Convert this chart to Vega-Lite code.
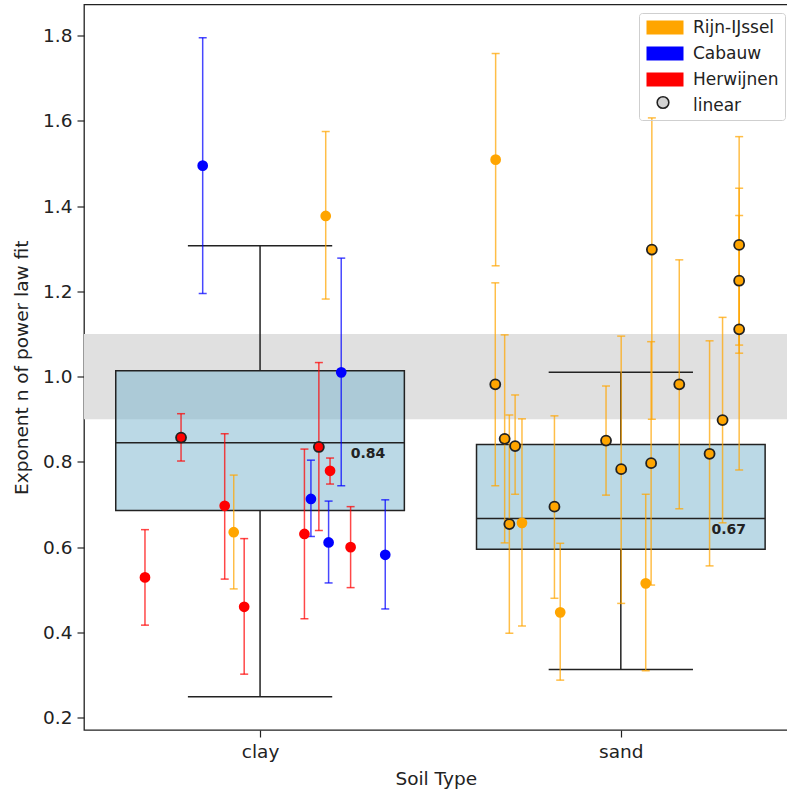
{
  "$schema": "https://vega.github.io/schema/vega-lite/v6.json",
  "width": 703.5,
  "height": 725.5,
  "autosize": {"type": "none"},
  "padding": {"left": 84, "top": 4.5, "right": 0, "bottom": 63},
  "background": "white",
  "config": {
    "font": "DejaVu Sans",
    "view": {"stroke": "#222", "strokeWidth": 1.3},
    "axis": {"grid": false, "domain": false, "labelColor": "#222", "titleColor": "#222", "tickColor": "#222", "labelFontSize": 18.5, "titleFontSize": 18.5, "titleFontWeight": "normal", "tickSize": 7, "tickWidth": 1.2}
  },
  "datasets": {
    "points": [
      {"soil": "clay", "x": -0.319, "y": 0.529, "lo": 0.417, "hi": 0.641, "site": "Herwijnen", "fit": "power"},
      {"soil": "clay", "x": -0.219, "y": 0.857, "lo": 0.802, "hi": 0.913, "site": "Herwijnen", "fit": "linear"},
      {"soil": "clay", "x": -0.098, "y": 0.697, "lo": 0.525, "hi": 0.866, "site": "Herwijnen", "fit": "power"},
      {"soil": "clay", "x": -0.073, "y": 0.635, "lo": 0.502, "hi": 0.769, "site": "Rijn-IJssel", "fit": "power"},
      {"soil": "clay", "x": -0.044, "y": 0.460, "lo": 0.302, "hi": 0.620, "site": "Herwijnen", "fit": "power"},
      {"soil": "clay", "x": -0.159, "y": 1.495, "lo": 1.195, "hi": 1.795, "site": "Cabauw", "fit": "power"},
      {"soil": "clay", "x": 0.182, "y": 1.377, "lo": 1.182, "hi": 1.575, "site": "Rijn-IJssel", "fit": "power"},
      {"soil": "clay", "x": 0.225, "y": 1.010, "lo": 0.744, "hi": 1.278, "site": "Cabauw", "fit": "power"},
      {"soil": "clay", "x": 0.163, "y": 0.835, "lo": 0.639, "hi": 1.033, "site": "Herwijnen", "fit": "linear"},
      {"soil": "clay", "x": 0.194, "y": 0.779, "lo": 0.748, "hi": 0.809, "site": "Herwijnen", "fit": "power"},
      {"soil": "clay", "x": 0.141, "y": 0.713, "lo": 0.625, "hi": 0.804, "site": "Cabauw", "fit": "power"},
      {"soil": "clay", "x": 0.123, "y": 0.631, "lo": 0.432, "hi": 0.830, "site": "Herwijnen", "fit": "power"},
      {"soil": "clay", "x": 0.190, "y": 0.611, "lo": 0.516, "hi": 0.708, "site": "Cabauw", "fit": "power"},
      {"soil": "clay", "x": 0.251, "y": 0.600, "lo": 0.505, "hi": 0.695, "site": "Herwijnen", "fit": "power"},
      {"soil": "clay", "x": 0.347, "y": 0.582, "lo": 0.455, "hi": 0.711, "site": "Cabauw", "fit": "power"},
      {"soil": "sand", "x": 0.653, "y": 1.509, "lo": 1.260, "hi": 1.758, "site": "Rijn-IJssel", "fit": "power"},
      {"soil": "sand", "x": 0.652, "y": 0.982, "lo": 0.744, "hi": 1.220, "site": "Rijn-IJssel", "fit": "linear"},
      {"soil": "sand", "x": 0.678, "y": 0.854, "lo": 0.610, "hi": 1.098, "site": "Rijn-IJssel", "fit": "linear"},
      {"soil": "sand", "x": 0.707, "y": 0.837, "lo": 0.724, "hi": 0.957, "site": "Rijn-IJssel", "fit": "linear"},
      {"soil": "sand", "x": 0.691, "y": 0.654, "lo": 0.398, "hi": 0.910, "site": "Rijn-IJssel", "fit": "linear"},
      {"soil": "sand", "x": 0.726, "y": 0.657, "lo": 0.415, "hi": 0.901, "site": "Rijn-IJssel", "fit": "power"},
      {"soil": "sand", "x": 0.816, "y": 0.695, "lo": 0.480, "hi": 0.908, "site": "Rijn-IJssel", "fit": "linear"},
      {"soil": "sand", "x": 0.832, "y": 0.447, "lo": 0.288, "hi": 0.609, "site": "Rijn-IJssel", "fit": "power"},
      {"soil": "sand", "x": 0.959, "y": 0.850, "lo": 0.722, "hi": 0.978, "site": "Rijn-IJssel", "fit": "linear"},
      {"soil": "sand", "x": 1.001, "y": 0.783, "lo": 0.468, "hi": 1.095, "site": "Rijn-IJssel", "fit": "linear"},
      {"soil": "sand", "x": 1.069, "y": 0.515, "lo": 0.310, "hi": 0.724, "site": "Rijn-IJssel", "fit": "power"},
      {"soil": "sand", "x": 1.084, "y": 0.797, "lo": 0.511, "hi": 1.082, "site": "Rijn-IJssel", "fit": "linear"},
      {"soil": "sand", "x": 1.086, "y": 1.298, "lo": 0.900, "hi": 1.607, "site": "Rijn-IJssel", "fit": "linear"},
      {"soil": "sand", "x": 1.162, "y": 0.982, "lo": 0.690, "hi": 1.274, "site": "Rijn-IJssel", "fit": "linear"},
      {"soil": "sand", "x": 1.246, "y": 0.819, "lo": 0.556, "hi": 1.084, "site": "Rijn-IJssel", "fit": "linear"},
      {"soil": "sand", "x": 1.282, "y": 0.898, "lo": 0.657, "hi": 1.139, "site": "Rijn-IJssel", "fit": "linear"},
      {"soil": "sand", "x": 1.328, "y": 1.309, "lo": 1.055, "hi": 1.563, "site": "Rijn-IJssel", "fit": "linear"},
      {"soil": "sand", "x": 1.328, "y": 1.225, "lo": 1.074, "hi": 1.442, "site": "Rijn-IJssel", "fit": "linear"},
      {"soil": "sand", "x": 1.328, "y": 1.111, "lo": 0.781, "hi": 1.378, "site": "Rijn-IJssel", "fit": "linear"}
    ],
    "boxes": [
      {"soil": "clay", "pos": 0, "left": -0.4, "right": 0.4, "capl": -0.2, "capr": 0.2, "q1": 0.686, "med": 0.845, "q3": 1.014, "wlo": 0.249, "whi": 1.307, "label": "0.84"},
      {"soil": "sand", "pos": 1, "left": 0.6, "right": 1.4, "capl": 0.8, "capr": 1.2, "q1": 0.595, "med": 0.667, "q3": 0.841, "wlo": 0.313, "whi": 1.010, "label": "0.67"}
    ],
    "band": [{"lo": 0.9, "hi": 1.1}]
  },
  "layer": [
    {
      "data": {"name": "band"},
      "mark": {"type": "rect", "fill": "#e0e0e0"},
      "encoding": {
        "y": {"field": "lo", "type": "quantitative", "scale": {"domain": [0.171, 1.873], "nice": false, "zero": false},
              "axis": {"values": [0.2, 0.4, 0.6, 0.8, 1.0, 1.2, 1.4, 1.6, 1.8], "format": ".1f", "title": "Exponent n of power law fit", "labelPadding": 5, "titlePadding": 11}},
        "y2": {"field": "hi"}
      }
    },
    {
      "data": {"name": "boxes"},
      "mark": {"type": "rect", "fill": "#7db7cf", "fillOpacity": 0.52, "stroke": "#222", "strokeWidth": 1.5},
      "encoding": {
        "x": {"field": "left", "type": "quantitative", "scale": {"domain": [-0.488, 1.462], "nice": false, "zero": false},
              "axis": {"values": [0, 1], "labelExpr": "datum.value == 0 ? 'clay' : 'sand'", "title": "Soil Type", "labelPadding": 5, "titlePadding": 9}},
        "x2": {"field": "right"},
        "y": {"field": "q1", "type": "quantitative"},
        "y2": {"field": "q3"}
      }
    },
    {
      "data": {"name": "boxes"},
      "mark": {"type": "rule", "color": "#222", "strokeWidth": 1.5},
      "encoding": {"x": {"field": "left", "type": "quantitative"}, "x2": {"field": "right"}, "y": {"field": "med", "type": "quantitative"}}
    },
    {
      "data": {"name": "boxes"},
      "mark": {"type": "rule", "color": "#222", "strokeWidth": 1.5},
      "encoding": {"x": {"field": "pos", "type": "quantitative"}, "y": {"field": "q3", "type": "quantitative"}, "y2": {"field": "whi"}}
    },
    {
      "data": {"name": "boxes"},
      "mark": {"type": "rule", "color": "#222", "strokeWidth": 1.5},
      "encoding": {"x": {"field": "pos", "type": "quantitative"}, "y": {"field": "q1", "type": "quantitative"}, "y2": {"field": "wlo"}}
    },
    {
      "data": {"name": "boxes"},
      "mark": {"type": "rule", "color": "#222", "strokeWidth": 1.5},
      "encoding": {"x": {"field": "capl", "type": "quantitative"}, "x2": {"field": "capr"}, "y": {"field": "whi", "type": "quantitative"}}
    },
    {
      "data": {"name": "boxes"},
      "mark": {"type": "rule", "color": "#222", "strokeWidth": 1.5},
      "encoding": {"x": {"field": "capl", "type": "quantitative"}, "x2": {"field": "capr"}, "y": {"field": "wlo", "type": "quantitative"}}
    },
    {
      "mark": {"type": "rule", "color": "black", "strokeWidth": 1.6},
      "encoding": {"y": {"datum": 1.0, "type": "quantitative"}}
    },
    {
      "data": {"name": "boxes"},
      "mark": {"type": "text", "fontWeight": "bold", "fontSize": 14, "color": "#222", "align": "center", "baseline": "top", "dx": 108, "dy": 4},
      "encoding": {"x": {"field": "pos", "type": "quantitative"}, "y": {"field": "med", "type": "quantitative"}, "text": {"field": "label"}}
    },
    {
      "data": {"name": "points"},
      "mark": {"type": "rule", "strokeWidth": 1.5, "opacity": 0.72},
      "encoding": {
        "x": {"field": "x", "type": "quantitative"},
        "y": {"field": "lo", "type": "quantitative"},
        "y2": {"field": "hi"},
        "color": {"field": "site", "type": "nominal", "scale": {"domain": ["Rijn-IJssel", "Cabauw", "Herwijnen"], "range": ["#FFA500", "#0000FF", "#FF0000"]}, "legend": null}
      }
    },
    {
      "data": {"name": "points"},
      "mark": {"type": "tick", "orient": "horizontal", "size": 8, "thickness": 1.5, "opacity": 0.72},
      "encoding": {
        "x": {"field": "x", "type": "quantitative"},
        "y": {"field": "lo", "type": "quantitative"},
        "color": {"field": "site", "type": "nominal", "legend": null}
      }
    },
    {
      "data": {"name": "points"},
      "mark": {"type": "tick", "orient": "horizontal", "size": 8, "thickness": 1.5, "opacity": 0.72},
      "encoding": {
        "x": {"field": "x", "type": "quantitative"},
        "y": {"field": "hi", "type": "quantitative"},
        "color": {"field": "site", "type": "nominal", "legend": null}
      }
    },
    {
      "data": {"name": "points"},
      "mark": {"type": "point", "filled": true, "opacity": 1, "stroke": "#222",
               "size": {"expr": "datum.fit === 'linear' ? 100 : 115"},
               "strokeWidth": {"expr": "datum.fit === 'linear' ? 1.8 : 0"}},
      "encoding": {
        "x": {"field": "x", "type": "quantitative"},
        "y": {"field": "y", "type": "quantitative"},
        "fill": {"field": "site", "type": "nominal",
          "scale": {"domain": ["Rijn-IJssel", "Cabauw", "Herwijnen", "linear"], "range": ["#FFA500", "#0000FF", "#FF0000", "transparent"]},
          "legend": {
            "title": null, "orient": "none", "legendX": 555, "legendY": 8.5,
            "symbolType": "M-1,-1H4.286V1H-1Z",
            "symbolSize": 196, "symbolStrokeWidth": 0, "symbolStrokeColor": "transparent", "symbolOpacity": 1,
            "labelFontSize": 17, "labelColor": "#222", "labelOffset": 31,
            "rowPadding": 8, "padding": 6, "fillColor": "transparent", "strokeColor": "#cfcfcf", "cornerRadius": 3
          }
        },
        "shape": {"field": "fit", "type": "nominal",
          "scale": {"domain": ["linear", "power"], "range": ["circle", "circle"]},
          "legend": {
            "values": ["linear"],
            "title": null, "orient": "none", "legendX": 572, "legendY": 91,
            "symbolFillColor": "#D3D3D3", "symbolStrokeColor": "#222", "symbolStrokeWidth": 1.6, "symbolSize": 135, "symbolOpacity": 1,
            "labelExpr": "''", "labelFontSize": 1, "padding": 0, "fillColor": "transparent", "strokeColor": "transparent"
          }
        }
      }
    }
  ]
}
